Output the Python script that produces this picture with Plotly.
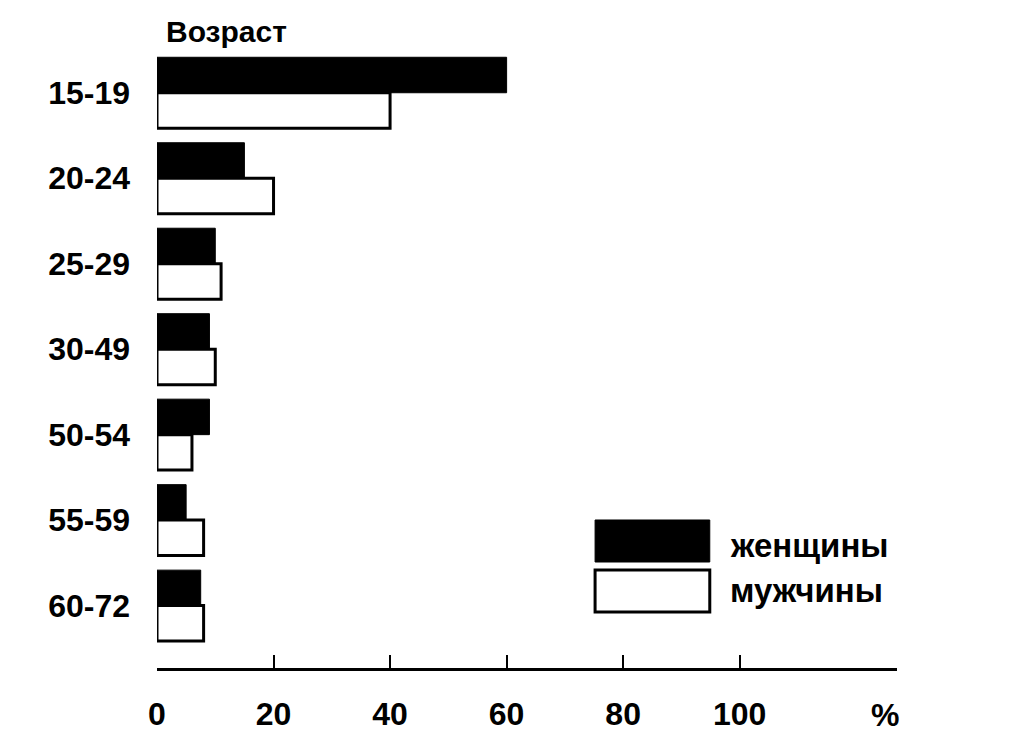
import plotly.graph_objects as go

ages = ["15-19", "20-24", "25-29", "30-49", "50-54", "55-59", "60-72"]
women = [60, 15, 10, 9, 9, 5, 7.5]
men = [40, 20, 11, 10, 6, 8, 8]
tick_vals = [0, 20, 40, 60, 80, 100]
tick_text = ["0", "20", "40", "60", "80", "100"]

FONT = "Arial, 'Liberation Sans', sans-serif"

fig = go.Figure()
fig.add_trace(go.Bar(y=ages, x=women, orientation="h", name="женщины",
                     marker=dict(color="black", line=dict(color="black", width=1))))
fig.add_trace(go.Bar(y=ages, x=men, orientation="h", name="мужчины",
                     marker=dict(color="white", line=dict(color="black", width=3))))

fig.update_layout(
    width=1011, height=748,
    margin=dict(l=149, r=122, t=42, b=88),
    paper_bgcolor="white", plot_bgcolor="white",
    barmode="group", bargap=0.17, bargroupgap=0,
    showlegend=False,
    font=dict(family=FONT, color="black", size=32, weight="bold"),
)
fig.update_xaxes(
    range=[0, 127], tickvals=tick_vals, ticktext=tick_text,
    showgrid=False, zeroline=False, showline=True, linecolor="black", linewidth=3,
    ticks="inside", ticklen=13, tickwidth=2, tickcolor="black",
    ticklabelstandoff=16,
    tickfont=dict(size=32, family=FONT, weight="bold"),
)
fig.update_yaxes(
    categoryorder="array", categoryarray=ages,
    range=[6.73, -0.5],
    showgrid=False, zeroline=False, showline=False, ticks="",
    ticklabelstandoff=26,
    tickfont=dict(size=32, family=FONT, weight="bold"),
)

# legend drawn as boxes + labels
fig.add_shape(type="rect", xref="paper", yref="paper", x0=0.592, x1=0.747, y0=0.1715, y1=0.2395,
              fillcolor="black", line=dict(color="black", width=1))
fig.add_shape(type="rect", xref="paper", yref="paper", x0=0.592, x1=0.747, y0=0.0906, y1=0.1586,
              fillcolor="white", line=dict(color="black", width=3))
fig.add_annotation(text="женщины", xref="paper", yref="paper", x=0.771, y=0.199,
                   xanchor="left", yanchor="middle", showarrow=False,
                   font=dict(size=33, family=FONT, weight="bold"))
fig.add_annotation(text="мужчины", xref="paper", yref="paper", x=0.771, y=0.126,
                   xanchor="left", yanchor="middle", showarrow=False,
                   font=dict(size=33, family=FONT, weight="bold"))
fig.add_annotation(text="Возраст", xref="paper", yref="paper", x=0.011, y=1.0,
                   xanchor="left", yanchor="bottom", yshift=1, showarrow=False,
                   borderpad=0,
                   font=dict(size=30, family=FONT, weight="bold"))
fig.add_annotation(text="%", xref="x", yref="paper", x=125, y=-0.076,
                   xanchor="center", yanchor="middle", showarrow=False,
                   font=dict(size=32, family=FONT, weight="bold"))

fig.write_html("out.html")
